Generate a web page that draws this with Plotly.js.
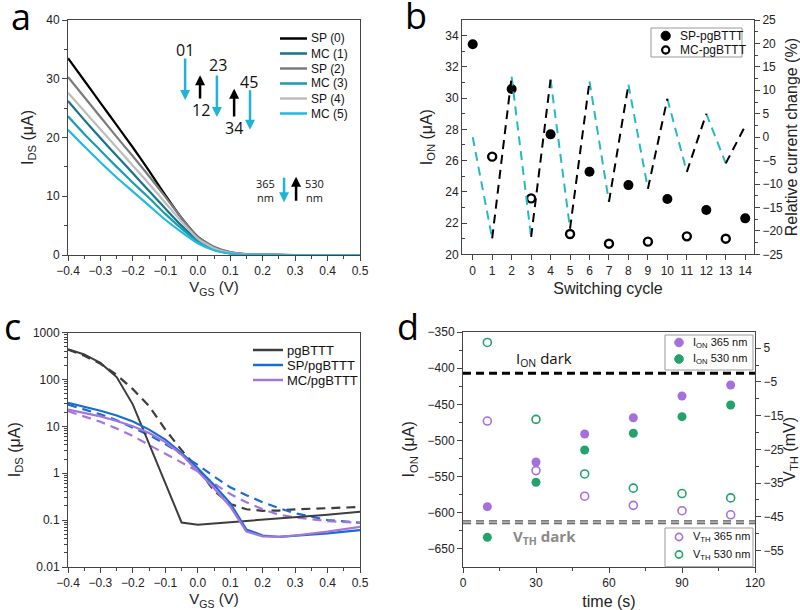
<!DOCTYPE html>
<html><head><meta charset="utf-8">
<script src="https://cdn.plot.ly/plotly-3.0.1.min.js"></script>
<style>body{margin:0;background:#fff}#chart{width:800px;height:610px}</style>
</head><body><div id="chart"></div>
<script>
// ---------- Panel a data ----------
const vgsA = [-0.4,-0.35,-0.3,-0.25,-0.2,-0.15,-0.1,-0.05,0,0.05,0.1,0.15,0.2,0.25,0.3,0.4,0.5];
const sp0 = [33.5,29.7,25.9,22.1,18.3,14.3,10.2,6.3,3.1,1.3,0.45,0.12,0.03,0.01,0,0,0];
const mc1 = [26.2,23.0,19.9,16.9,13.9,10.9,7.9,5.0,2.5,1.0,0.3,0.08,0.02,0.01,0,0,0];
const sp2 = [30.3,26.9,23.5,20.1,16.8,13.4,9.9,6.3,3.1,1.4,0.5,0.15,0.04,0.01,0,0,0];
const mc3 = [23.6,20.6,17.8,15.0,12.3,9.7,7.0,4.5,2.3,0.9,0.28,0.07,0.02,0,0,0,0];
const sp4 = [27.6,24.5,21.4,18.3,15.2,12.1,8.9,5.7,2.8,1.15,0.38,0.1,0.03,0.01,0,0,0];
const mc5 = [21.3,18.5,15.8,13.2,10.8,8.4,6.0,3.9,2.0,0.8,0.25,0.06,0.02,0,0,0,0];
const namesA = ['SP (0)','MC (1)','SP (2)','MC (3)','SP (4)','MC (5)'];

// ---------- Panel b data ----------
const spCycles = [0,2,4,6,8,10,12,14];
const spIon = [33.45,30.58,27.68,25.29,24.43,23.54,22.84,22.30];
const mcCycles = [1,3,5,7,9,11,13];
const mcIon = [26.25,23.58,21.30,20.68,20.81,21.15,21.0];
const cycles = [0,1,2,3,4,5,6,7,8,9,10,11,12,13,14];
const relChange = [0,-21.6,12.9,-21.3,12.3,-19.5,11.9,-13.8,11.2,-11.0,8.2,-7.4,5.0,-5.6,2.4];
const namesB = ['SP-pgBTTT','MC-pgBTTT'];

// ---------- Panel c data ----------
const vgsC = [-0.4,-0.35,-0.3,-0.25,-0.2,-0.15,-0.1,-0.05,0,0.05,0.1,0.15,0.2,0.25,0.3,0.4,0.5];
const pgSolid = [440,340,225,112,29,4.3,0.62,0.089,0.08,0.085,0.09,0.095,0.1,0.107,0.115,0.13,0.15];
const pgDash  = [430,320,215,125,62,27,8.5,3.1,1.25,0.42,0.22,0.17,0.158,0.16,0.17,0.18,0.19];
const spSolid = [31.5,26,21.5,17,12.7,8.5,5.2,2.7,1.28,0.56,0.23,0.063,0.047,0.044,0.046,0.052,0.061];
const spDash  = [29,23,18,13.5,9.5,6.5,4.2,2.5,1.5,0.85,0.5,0.34,0.24,0.18,0.14,0.1,0.088];
const mcSolid = [22.6,19.2,16.3,13,10,7.2,4.6,2.5,1.09,0.48,0.195,0.057,0.045,0.044,0.047,0.057,0.072];
const mcDash  = [21,16,12.5,9,6.2,4.0,2.6,1.7,1.1,0.6,0.36,0.24,0.17,0.13,0.115,0.095,0.087];
const namesC = ['pgBTTT','SP/pgBTTT','MC/pgBTTT'];
const logTicks = [0.01,0.1,1,10,100,1000];
const logTickText = ['0.01','0.1','1','10','100','1000'];

// ---------- Panel d data ----------
const timeS = [10,30,50,70,90,110];
const ion365 = [-591.5,-529.7,-491,-468.5,-438.5,-423.3];
const ion530 = [-633.9,-557.8,-513.1,-490,-467.1,-451];
const vth365 = [-16.6,-31.3,-38.9,-41.6,-43.2,-44.4];
const vth530 = [6.7,-16.1,-32.3,-36.5,-38.1,-39.4];
const ionDark = -407;
const vthDark = -46.6;
const namesD = ['I<sub>ON</sub> 365 nm','I<sub>ON</sub> 530 nm','V<sub>TH</sub> 365 nm','V<sub>TH</sub> 530 nm'];

// ---------- styles ----------
const cBlack='#000000', cMC1='#16748a', cSP2='#7b7b7b', cMC3='#1a9db0', cSP4='#bdbdbd', cMC5='#22b9e2';
const cCyan='#1fb3d6', cPg='#3d3d3d', cBlue='#1a6dd0', cPurple='#a575df', cGreen='#23a26b', cPurpD='#a56fdc';
const colorsA=[cBlack,cMC1,cSP2,cMC3,cSP4,cMC5];
const seriesA=[sp0,mc1,sp2,mc3,sp4,mc5];
const colorsC=[cPg,cBlue,cPurple];

const traces=[];
seriesA.forEach((s,i)=>traces.push({x:vgsA,y:s,type:'scatter',mode:'lines',name:namesA[i],
  line:{color:colorsA[i],width:2.2,shape:'spline',smoothing:0.6},xaxis:'x',yaxis:'y',showlegend:false}));

// panel b dashed zigzag
function segs(parity){const xs=[],ys=[];for(let i=0;i<cycles.length-1;i++){if(i%2===parity){xs.push(cycles[i],cycles[i+1],null);ys.push(relChange[i],relChange[i+1],null);}}return{xs,ys};}
const cyS=segs(0), bkS=segs(1);
traces.push({x:cyS.xs,y:cyS.ys,type:'scatter',mode:'lines',line:{color:'#27b7c9',width:2,dash:'9px,6px'},xaxis:'x2',yaxis:'y3',showlegend:false});
traces.push({x:bkS.xs,y:bkS.ys,type:'scatter',mode:'lines',line:{color:'#000',width:2,dash:'9px,6px'},xaxis:'x2',yaxis:'y3',showlegend:false});
traces.push({x:spCycles,y:spIon,type:'scatter',mode:'markers',name:namesB[0],marker:{symbol:'circle',size:10,color:'#000'},xaxis:'x2',yaxis:'y2',showlegend:false});
traces.push({x:mcCycles,y:mcIon,type:'scatter',mode:'markers',name:namesB[1],marker:{symbol:'circle-open',size:8,color:'#000',line:{width:2.4}},xaxis:'x2',yaxis:'y2',showlegend:false});

// panel c
traces.push({x:vgsC,y:pgDash,type:'scatter',mode:'lines',line:{color:cPg,width:2.2,dash:'9px,6px'},xaxis:'x3',yaxis:'y4',showlegend:false});
traces.push({x:vgsC,y:spDash,type:'scatter',mode:'lines',line:{color:cBlue,width:2.2,dash:'9px,6px'},xaxis:'x3',yaxis:'y4',showlegend:false});
traces.push({x:vgsC,y:mcDash,type:'scatter',mode:'lines',line:{color:cPurple,width:2.2,dash:'9px,6px'},xaxis:'x3',yaxis:'y4',showlegend:false});
traces.push({x:vgsC,y:pgSolid,type:'scatter',mode:'lines',name:namesC[0],line:{color:cPg,width:2},xaxis:'x3',yaxis:'y4',showlegend:false});
traces.push({x:vgsC,y:spSolid,type:'scatter',mode:'lines',name:namesC[1],line:{color:cBlue,width:2.2},xaxis:'x3',yaxis:'y4',showlegend:false});
traces.push({x:vgsC,y:mcSolid,type:'scatter',mode:'lines',name:namesC[2],line:{color:cPurple,width:2.2},xaxis:'x3',yaxis:'y4',showlegend:false});

// panel d
traces.push({x:timeS,y:ion365,type:'scatter',mode:'markers',name:namesD[0],marker:{size:9,color:cPurpD},xaxis:'x4',yaxis:'y5',showlegend:false});
traces.push({x:timeS,y:ion530,type:'scatter',mode:'markers',name:namesD[1],marker:{size:9,color:cGreen},xaxis:'x4',yaxis:'y5',showlegend:false});
traces.push({x:timeS,y:vth365,type:'scatter',mode:'markers',name:namesD[2],marker:{symbol:'circle-open',size:8,color:cPurpD,line:{width:1.6}},xaxis:'x4',yaxis:'y6',showlegend:false});
traces.push({x:timeS,y:vth530,type:'scatter',mode:'markers',name:namesD[3],marker:{symbol:'circle-open',size:8,color:cGreen,line:{width:1.6}},xaxis:'x4',yaxis:'y6',showlegend:false});

const W=800,H=610;
const dx=(a,b)=>[a/W,b/W];
const dy=(top,bot)=>[1-bot/H,1-top/H];
const ax = (o)=>Object.assign({showline:true,linecolor:'#444',linewidth:1,mirror:true,ticks:'outside',ticklen:5,tickwidth:1,tickcolor:'#444',
  showgrid:false,zeroline:false,tickfont:{size:12,color:'#222',family:'Liberation Sans, Arial, sans-serif'},
  minor:{ticks:'outside',ticklen:3,tickcolor:'#444'}},o);
const ttl=(t,s)=>({text:t,font:{size:s||15,color:'#222'}});
const mir=(o)=>Object.assign({showline:false,ticks:'inside',ticklen:5,tickcolor:'#444',showticklabels:false,showgrid:false,zeroline:false,
  minor:{ticks:'inside',ticklen:3,tickcolor:'#444'}},o);

const dA=dx(68,360), yA=dy(20,255);
const dB=dx(462,754), yB=dy(20,254.3);
const dC=dx(68,360), yC=dy(332.5,567);
const dD=dx(463,755), yD=dy(332,566.7);

const minorLog=[];for(let e=-2;e<3;e++){for(let k=2;k<10;k++){minorLog.push(k*Math.pow(10,e));}}

const layout={
  width:W,height:H,margin:{l:0,r:0,t:0,b:0},paper_bgcolor:'#fff',plot_bgcolor:'rgba(0,0,0,0)',showlegend:false,
  font:{family:'Liberation Sans, Arial, sans-serif',color:'#222'},
  xaxis:ax({domain:dA,anchor:'y',range:[-0.4,0.5],dtick:0.1,tickformat:'.1f',minor:{ticks:'outside',ticklen:3,dtick:0.05,tickcolor:'#444'},title:Object.assign(ttl('V<sub>GS</sub> (V)'),{standoff:4})}),
  yaxis:ax({domain:yA,anchor:'x',range:[0,40],dtick:10,minor:{ticks:'outside',ticklen:3,dtick:5,tickcolor:'#444'},title:Object.assign(ttl('I<sub>DS</sub> (μA)',16),{standoff:8})}),
  xaxis2:ax({domain:dB,anchor:'y2',range:[-0.55,14.45],dtick:1,tick0:0,minor:{ticks:''},title:Object.assign(ttl('Switching cycle',16),{standoff:6})}),
  yaxis2:ax({domain:yB,anchor:'x2',range:[20,35],dtick:2,tick0:20,ticks:'inside',mirror:false,minor:{ticks:'inside',ticklen:3,dtick:1,tickcolor:'#444'},title:Object.assign(ttl('I<sub>ON</sub> (μA)',16),{standoff:8})}),
  yaxis3:ax({overlaying:'y2',side:'right',anchor:'x2',range:[-25,25],dtick:5,mirror:false,minor:{ticks:'outside',ticklen:3,dtick:2.5,tickcolor:'#444'},title:Object.assign(ttl('Relative current change (%)',16),{standoff:6})}),
  xaxis3:ax({domain:dC,anchor:'y4',range:[-0.4,0.5],dtick:0.1,tickformat:'.1f',minor:{ticks:'outside',ticklen:3,dtick:0.05,tickcolor:'#444'},title:Object.assign(ttl('V<sub>GS</sub> (V)'),{standoff:4})}),
  yaxis4:ax({domain:yC,anchor:'x3',type:'log',range:[-2,3],tickvals:logTicks,ticktext:logTickText,minor:{ticks:'outside',ticklen:3,tickvals:minorLog,tickcolor:'#444'},title:Object.assign(ttl('I<sub>DS</sub> (μA)',16),{standoff:8})}),
  xaxis4:ax({domain:dD,anchor:'y5',range:[0,120],dtick:30,minor:{ticks:'outside',ticklen:3,dtick:15,tickcolor:'#444'},title:Object.assign(ttl('time (s)',16),{standoff:6})}),
  yaxis5:ax({domain:yD,anchor:'x4',range:[-674.5,-350],dtick:50,tick0:-650,mirror:false,minor:{ticks:'outside',ticklen:3,dtick:25,tickcolor:'#444'},title:Object.assign(ttl('I<sub>ON</sub> (μA)',16),{standoff:8})}),
  yaxis6:ax({overlaying:'y5',side:'right',anchor:'x4',range:[-59.8,9.8],dtick:10,tick0:5,mirror:false,minor:{ticks:'outside',ticklen:3,dtick:5,tickcolor:'#444'},title:Object.assign(ttl('V<sub>TH</sub> (mV)',16),{standoff:6})}),
  // mirrored inward ticks
  xaxis5:mir({overlaying:'x',side:'top',anchor:'y',range:[-0.4,0.5],dtick:0.1,minor:{ticks:'inside',ticklen:3,dtick:0.05,tickcolor:'#444'}}),
  yaxis7:mir({overlaying:'y',side:'right',anchor:'x',range:[0,40],dtick:10,minor:{ticks:'inside',ticklen:3,dtick:5,tickcolor:'#444'}}),
  xaxis6:mir({overlaying:'x2',side:'top',anchor:'y2',range:[-0.55,14.45],dtick:1,tick0:0,minor:{ticks:''}}),
  xaxis7:mir({overlaying:'x3',side:'top',anchor:'y4',range:[-0.4,0.5],dtick:0.1,minor:{ticks:'inside',ticklen:3,dtick:0.05,tickcolor:'#444'}}),
  yaxis8:mir({overlaying:'y4',side:'right',anchor:'x3',type:'log',range:[-2,3],tickvals:logTicks,minor:{ticks:'inside',ticklen:3,tickvals:minorLog,tickcolor:'#444'}}),
  xaxis8:mir({overlaying:'x4',side:'top',anchor:'y5',range:[0,120],dtick:30,minor:{ticks:'inside',ticklen:3,dtick:15,tickcolor:'#444'}}),
  shapes:[
    {type:'line',xref:'x4 domain',x0:0,x1:1,yref:'y5',y0:ionDark,y1:ionDark,line:{color:'#000',width:3,dash:'8px,5px'}},
    {type:'line',xref:'x4 domain',x0:0,x1:1,yref:'y6',y0:vthDark,y1:vthDark,line:{color:'#555',width:4,dash:'8px,5px'}},
    {type:'line',xref:'x4 domain',x0:0,x1:1,yref:'y6',y0:vthDark,y1:vthDark,line:{color:'#b0b0b0',width:2,dash:'8px,5px'}}
  ],
  annotations:[]
};

const ann=layout.annotations, shp=layout.shapes;
function legText(t,px,py,size){ann.push({text:t,xref:'paper',yref:'paper',x:px/W,y:1-py/H,xanchor:'left',yanchor:'middle',showarrow:false,font:{family:'Liberation Sans, Arial, sans-serif',size:size,color:'#111'}});}
function legLine(x1,x2,py,color,w){shp.push({type:'line',xref:'paper',yref:'paper',x0:x1/W,x1:x2/W,y0:1-py/H,y1:1-py/H,line:{color:color,width:w}});}
function legCirc(cx,cy,r,fill,lc,lw){shp.push({type:'circle',xref:'paper',yref:'paper',x0:(cx-r)/W,x1:(cx+r)/W,y0:1-(cy+r)/H,y1:1-(cy-r)/H,fillcolor:fill,line:{color:lc,width:lw}});}
function legBox(x1,y1,x2,y2){shp.push({type:'rect',xref:'paper',yref:'paper',x0:x1/W,x1:x2/W,y0:1-y2/H,y1:1-y1/H,fillcolor:'#fff',line:{color:'#999',width:1},layer:'above'});}

// legend a
namesA.forEach((n,i)=>{const py=38.5+15*i;legLine(280,307,py,colorsA[i],2.5);legText(n,309,py,12);});
// legend b
legBox(651,28,742,57);
legCirc(665.7,35.8,4.6,'#000','#000',1);
legCirc(665.7,50,3.6,'rgba(0,0,0,0)','#000',2.2);
legText(namesB[0],678,35.8,12);legText(namesB[1],678,50,12);
// legend c
namesC.forEach((n,i)=>{const py=350+15*i;legLine(253,283,py,colorsC[i],2.5);legText(n,285,py,13);});
// legend d
legBox(665,335,753,370);
legCirc(679,342.5,4.3,cPurpD,cPurpD,1);legCirc(679,359,4.3,cGreen,cGreen,1);
legText(namesD[0],691,342.5,11);legText(namesD[1],691,359,11);
legBox(665,528,753,566.7);
legCirc(679,537,3.6,'rgba(0,0,0,0)',cPurpD,1.6);legCirc(679,554.5,3.6,'rgba(0,0,0,0)',cGreen,1.6);
legText(namesD[2],691,537,11);legText(namesD[3],691,554.5,11);

const letterFont={family:'Open Sans, Noto Sans, sans-serif',size:36,color:'#000'};
[['a',21,16],['b',416,15],['c',12,326],['d',408,326]].forEach(l=>ann.push({text:l[0],xref:'paper',yref:'paper',x:l[1]/W,y:1-l[2]/H,showarrow:false,font:letterFont,xanchor:'center',yanchor:'middle'}));

// panel a arrows (head x,y ; tail ax,ay in data coords)
const arrowsA=[
  {x:-0.039,y:26.4,ax:-0.039,ay:33.7,c:cCyan},
  {x:0.007,y:30.6,ax:0.007,ay:26.4,c:'#000'},
  {x:0.059,y:23.5,ax:0.059,ay:30.8,c:cCyan},
  {x:0.112,y:28.3,ax:0.112,ay:23.3,c:'#000'},
  {x:0.161,y:21.3,ax:0.161,ay:28.3,c:cCyan},
  {x:0.266,y:9.0,ax:0.266,ay:13.4,c:cCyan},
  {x:0.303,y:13.3,ax:0.303,ay:9.0,c:'#000'}
];
arrowsA.forEach(a=>ann.push({x:a.x,y:a.y,ax:a.ax,ay:a.ay,xref:'x',yref:'y',axref:'x',ayref:'y',text:'',showarrow:true,arrowhead:2,arrowsize:0.8,arrowwidth:2.5,arrowcolor:a.c}));
const lblFont={family:'Open Sans, Noto Sans, sans-serif',size:16,color:'#111'};
[['01',-0.039,34.9],['12',0.010,24.6],['23',0.062,32.3],['34',0.112,21.6],['45',0.158,29.4]].forEach(l=>ann.push({text:l[0],x:l[1],y:l[2],xref:'x',yref:'y',showarrow:false,xanchor:'center',yanchor:'middle',font:lblFont}));
ann.push({text:'365<br>nm',x:0.245,y:10.9,xref:'x',yref:'y',showarrow:false,xanchor:'right',yanchor:'middle',align:'center',font:{family:'Open Sans, Noto Sans, sans-serif',size:11,color:'#111'}});
ann.push({text:'530<br>nm',x:0.323,y:10.9,xref:'x',yref:'y',showarrow:false,xanchor:'left',yanchor:'middle',align:'center',font:{family:'Open Sans, Noto Sans, sans-serif',size:11,color:'#111'}});

// panel d labels
ann.push({text:'I<sub>ON</sub> dark',xref:'paper',yref:'paper',x:544/W,y:1-359/H,xanchor:'center',yanchor:'middle',showarrow:false,font:{family:'Open Sans, Noto Sans, sans-serif',size:15,color:'#111'}});
ann.push({text:'<b>V<sub>TH</sub> dark</b>',xref:'paper',yref:'paper',x:544/W,y:1-537/H,xanchor:'center',yanchor:'middle',showarrow:false,font:{family:'Open Sans, Noto Sans, sans-serif',size:15,color:'#8a8a8a'}});

Plotly.newPlot('chart',traces,layout,{displayModeBar:false,staticPlot:true});
</script></body></html>
